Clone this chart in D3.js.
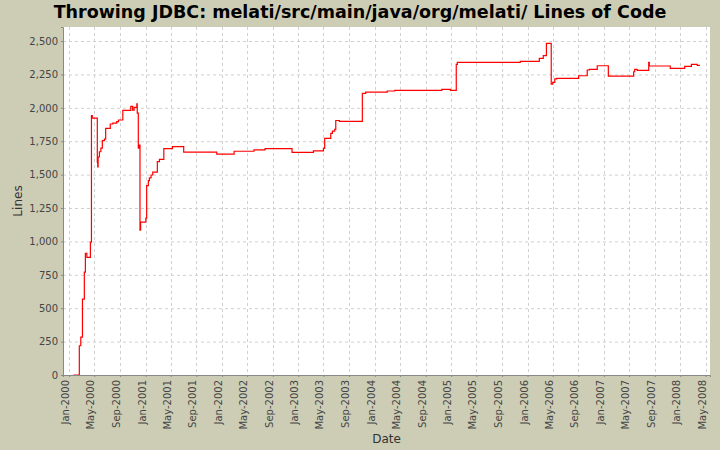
<!DOCTYPE html>
<html><head><meta charset="utf-8">
<script src="https://cdn.jsdelivr.net/npm/d3@7"></script>
<style>body{margin:0;background:#cdcdb6}svg{display:block}</style>
</head><body><svg id="c" width="720" height="450"></svg>
<script>
const dates = ["1999-12-20","2000-01-29","2000-02-19","2000-02-26","2000-03-05","2000-03-14","2000-03-19","2000-03-26","2000-04-12","2000-04-17","2000-04-21","2000-05-15","2000-05-17","2000-05-19","2000-05-25","2000-06-01","2000-06-08","2000-06-18","2000-06-24","2000-07-16","2000-07-28","2000-08-16","2000-08-24","2000-09-14","2000-10-22","2000-10-31","2000-11-07","2000-11-20","2000-11-22","2000-11-27","2000-12-01","2000-12-05","2000-12-08","2001-01-02","2001-01-06","2001-01-14","2001-01-19","2001-01-27","2001-02-04","2001-02-26","2001-03-08","2001-03-29","2001-05-09","2001-07-02","2001-12-07","2002-02-28","2002-06-03","2002-07-26","2002-12-02","2003-03-14","2003-05-01","2003-05-07","2003-06-05","2003-06-13","2003-06-24","2003-06-29","2003-07-16","2003-11-03","2003-11-19","2004-03-01","2004-04-06","2004-11-17","2004-12-28","2005-01-25","2005-01-30","2005-11-27","2006-02-26","2006-03-17","2006-04-01","2006-04-24","2006-05-01","2006-05-11","2006-05-20","2006-09-02","2006-10-13","2006-10-23","2006-11-30","2007-01-22","2007-05-23","2007-05-28","2007-06-09","2007-08-03","2007-08-06","2007-11-14","2008-01-22","2008-02-23","2008-03-22","2008-04-04"];
const lines = [0,0,219,283,568,770,911,880,995,1941,1923,1594,1557,1632,1671,1699,1754,1766,1846,1879,1886,1896,1909,1981,2011,1983,2003,2030,1960,1699,1721,1085,1145,1175,1417,1455,1475,1497,1519,1597,1614,1694,1709,1669,1654,1675,1685,1695,1667,1677,1697,1771,1809,1826,1839,1905,1898,2108,2118,2126,2131,2138,2131,2325,2340,2347,2370,2390,2482,2178,2191,2216,2221,2240,2283,2288,2315,2238,2270,2288,2280,2340,2313,2295,2310,2325,2317,2317];
const yTicks = [0,250,500,750,1000,1250,1500,1750,2000,2250,2500];
const xTickLabels = ["Jan-2000","May-2000","Sep-2000","Jan-2001","May-2001","Sep-2001","Jan-2002","May-2002","Sep-2002","Jan-2003","May-2003","Sep-2003","Jan-2004","May-2004","Sep-2004","Jan-2005","May-2005","Sep-2005","Jan-2006","May-2006","Sep-2006","Jan-2007","May-2007","Sep-2007","Jan-2008","May-2008"];
const title = "Throwing JDBC: melati/src/main/java/org/melati/ Lines of Code";

const parse = d3.timeParse("%Y-%m-%d"), tp = d3.timeParse("%b-%Y");
const data = dates.map((d,i)=>({d:parse(d),v:lines[i]})).slice(1);
data[0].d = parse("2000-01-22");
const L=63,T=27,R=710,B=375;
const svg=d3.select("#c");
const x=d3.scaleTime().domain([parse("1999-12-03"),parse("2008-05-22")]).range([L,R]);
const y=d3.scaleLinear().domain([0,2605]).range([B,T]);
svg.append("text").attr("x",360).attr("y",18).attr("text-anchor","middle")
  .attr("font-family","DejaVu Sans").attr("font-weight","bold").attr("font-size",17.5).text(title);
svg.append("rect").attr("x",L).attr("y",T).attr("width",R-L).attr("height",B-T).attr("fill","#fff");
const xt=xTickLabels.map(s=>tp(s));
const g=svg.append("g").attr("stroke","#d0d0d0").attr("stroke-dasharray","3,3");
yTicks.forEach(t=>g.append("line").attr("x1",L).attr("x2",R).attr("y1",y(t)+.5).attr("y2",y(t)+.5));
xt.forEach(t=>g.append("line").attr("y1",T).attr("y2",B).attr("x1",Math.round(x(t))+.5).attr("x2",Math.round(x(t))+.5));
svg.append("path").datum(data).attr("fill","none").attr("stroke","#ff0000").attr("stroke-width",1.2)
  .attr("d",d3.line().x(d=>x(d.d)).y(d=>y(d.v)).curve(d3.curveStepAfter));
const ya=svg.append("g").attr("transform",`translate(${L},0)`)
  .call(d3.axisLeft(y).tickValues(yTicks).tickFormat(d3.format(",")).tickSize(2).tickPadding(3));
const xa=svg.append("g").attr("transform",`translate(0,${B})`)
  .call(d3.axisBottom(x).tickValues(xt).tickFormat(d3.timeFormat("%b-%Y")).tickSize(2));
xa.selectAll("text").attr("transform","rotate(-90)").attr("text-anchor","end").attr("x",-5).attr("y",-4).attr("dy","0.35em");
[ya,xa].forEach(a=>{a.selectAll("text").attr("font-family","DejaVu Sans").attr("font-size",10).attr("fill","#444");
  a.selectAll("line,path").attr("stroke","#888");});
svg.append("text").attr("transform",`translate(22,${(T+B)/2}) rotate(-90)`).attr("text-anchor","middle")
  .attr("font-family","DejaVu Sans").attr("font-size",12).attr("fill","#333").text("Lines");
svg.append("text").attr("x",(L+R)/2).attr("y",443).attr("text-anchor","middle")
  .attr("font-family","DejaVu Sans").attr("font-size",12).attr("fill","#333").text("Date");
</script></body></html>
